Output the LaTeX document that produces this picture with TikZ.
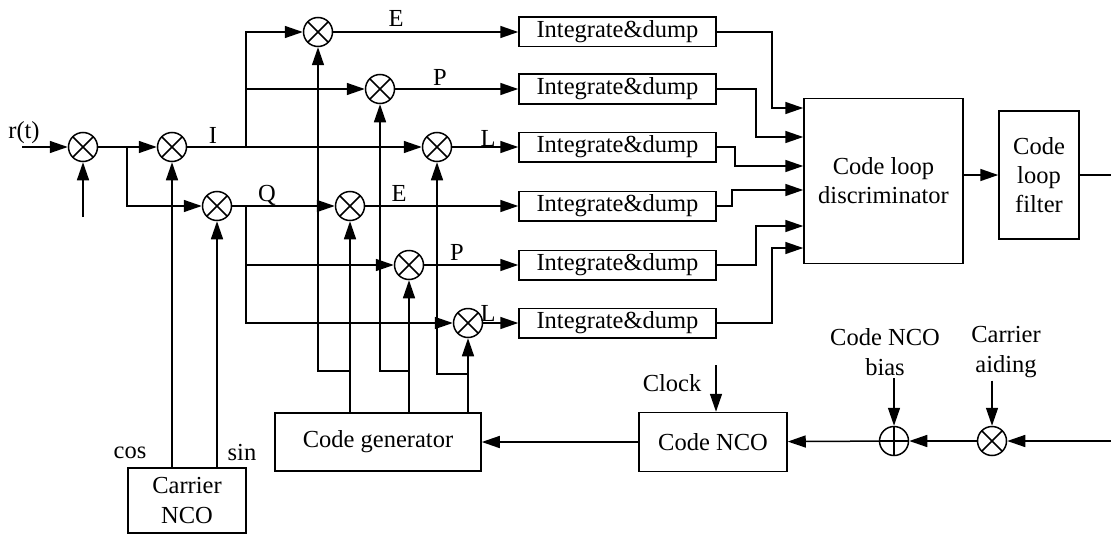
\documentclass[tikz,border=0pt]{standalone}
\usepackage{fontspec}
\setmainfont{Liberation Serif}
\usepackage{tikz}
\usetikzlibrary{arrows.meta,positioning}
\newcommand{\dlfont}{\fontsize{12.25}{14.5}\selectfont}
\tikzset{
  dlbox/.style={draw,align=center,inner sep=0pt,font=\dlfont},
  dlid/.style={dlbox,minimum width=98.5pt,minimum height=14.75pt},
  dlmix/.style={draw,circle,minimum size=14.5pt,inner sep=0pt,
    path picture={\draw (path picture bounding box.north west)--(path picture bounding box.south east)
      (path picture bounding box.north east)--(path picture bounding box.south west);}},
  dlsum/.style={draw,circle,minimum size=14.5pt,inner sep=0pt,
    path picture={\draw (path picture bounding box.north)--(path picture bounding box.south)
      (path picture bounding box.east)--(path picture bounding box.west);}},
  dllbl/.style={inner sep=1pt,align=center,font=\dlfont},
  dlflow/.style={-{Triangle[length=9pt,width=6pt]}},
}

\begin{document}
\begin{tikzpicture}[x=0.5pt,y=-0.5pt,line width=0.75pt]
\useasboundingbox (0,0) rectangle (1111,535);
\node[dlmix] (mr) at (83,147) {};
\node[dlmix] (mi) at (172,147) {};
\node[dlmix] (mq) at (217,206) {};
\node[dlmix] (mie) at (318,32) {};
\node[dlmix] (mip) at (380,89) {};
\node[dlmix] (mil) at (437,147) {};
\node[dlmix] (mqe) at (350,206) {};
\node[dlmix] (mqp) at (409,265) {};
\node[dlmix] (mql) at (468,323) {};
\foreach \n/\y in {ie/32,ip/89,il/147,qe/206,qp/265,ql/323}
  \node[dlid] (id\n) at (617.5,\y) {Integrate\&dump};
\node[dlbox,minimum width=79.5pt,minimum height=82.5pt] (disc) at (883.5,181) {Code loop\\discriminator};
\node[dlbox,minimum width=40pt,minimum height=64pt] (filt) at (1039,175) {Code\\loop\\filter};
\node[dlbox,minimum width=74pt,minimum height=29.5pt] (nco) at (713,442) {Code NCO};
\node[dlbox,minimum width=103pt,minimum height=29pt] (gen) at (378,442) {Code generator};
\node[dlbox,minimum width=59pt,minimum height=32.5pt] (cnco) at (187,500.5) {Carrier\\NCO};
\node[dlsum] (sb) at (894,441) {};
\node[dlmix] (ma) at (992,441) {};
\node[dllbl] (lr) at (24,133) {r(t)};
\node[dllbl] (li) at (213,135) {I};
\node[dllbl] (lq) at (267,195) {Q};
\node[dllbl] (lie) at (396,18) {E};
\node[dllbl] (lip) at (440,77) {P};
\node[dllbl] (lil) at (488,138) {L};
\node[dllbl] (lqe) at (399,193) {E};
\node[dllbl] (lqp) at (457,252) {P};
\node[dllbl] (lql) at (488,313) {L};
\node[dllbl] (lcos) at (130,453) {cos};
\node[dllbl] (lsin) at (242,453) {sin};
\node[dllbl] (lclk) at (672,383) {Clock};
\node[dllbl,font=\fontsize{12.25}{15}\selectfont] (lbias) at (885,352) {Code NCO\\bias};
\node[dllbl,font=\fontsize{12.25}{15}\selectfont] (laid) at (1006,352) {Carrier\\aiding};
\coordinate (rin) at (22,147);
\coordinate (rlo) at (83,217);
\coordinate (b0) at (127,147);
\coordinate (bi) at (246,147);
\coordinate (bq) at (246,206);
\coordinate (je) at (350,371);
\coordinate (jp) at (409,371);
\coordinate (jl) at (468,374);
\coordinate (clk) at (716,365);
\coordinate (fout) at (1111,175);
\coordinate (ain) at (1111,441);
\draw[dlflow] (rin) -- (mr);
\draw[dlflow] (rlo) -- (mr);
\draw[dlflow] (mr) -- (mi);
\draw[dlflow] (b0) |- (mq);
\draw[dlflow] (cnco.north -| mi) -- (mi);
\draw[dlflow] (cnco.north -| mq) -- (mq);
\draw[dlflow] (mi) -- (mil);
\draw[dlflow] (bi) |- (mie);
\draw[dlflow] (bi |- mip) -- (mip);
\draw[dlflow] (mq) -- (mqe);
\draw[dlflow] (bq) |- (mqp);
\draw[dlflow] (bq) |- (mql);
\draw[dlflow] (gen.north -| mqe) -- (mqe);
\draw[dlflow] (je) -| (mie);
\draw[dlflow] (gen.north -| mqp) -- (mqp);
\draw[dlflow] (jp) -| (mip);
\draw[dlflow] (gen.north -| mql) -- (mql);
\draw[dlflow] (jl) -| (mil);
\foreach \n in {ie,ip,il,qe,qp,ql}
  \draw[dlflow] (m\n) -- (id\n);
\foreach \n/\dx/\y in {ie/55/108,ip/39/137,il/18/166,qe/15/190,qp/39/226,ql/55/248}
  \draw[dlflow] (id\n.east) -- ++(\dx,0) |- (disc.west |- 0,\y);
\draw[dlflow] (disc.east |- filt) -- (filt);
\draw (filt) -- (fout);
\draw[dlflow] (ain) -- (ma);
\draw[dlflow] (ma) -- (sb);
\draw[dlflow] (sb) -- (nco);
\draw[dlflow] (nco) -- (gen);
\draw[dlflow] (clk) -- (clk |- nco.north);
\draw[dlflow] (lbias.south -| sb) -- (sb);
\draw[dlflow] (laid.south -| ma) -- (ma);
\end{tikzpicture}
\end{document}
